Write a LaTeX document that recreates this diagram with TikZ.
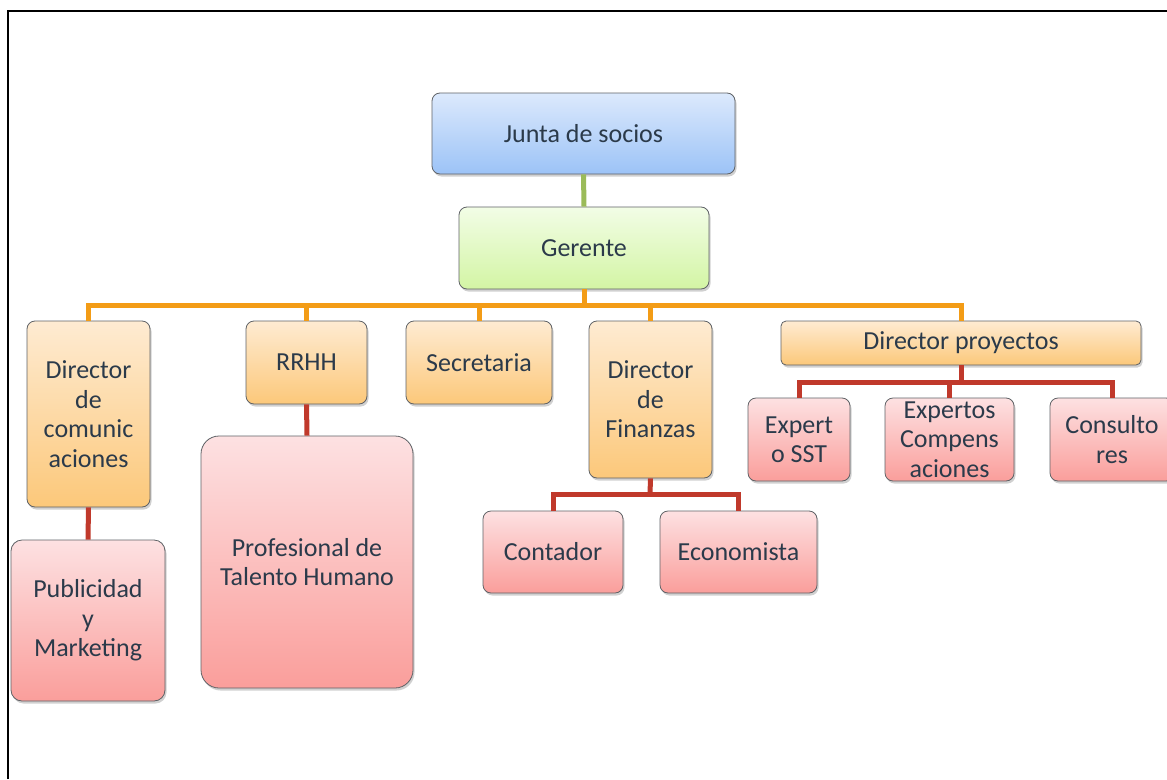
\documentclass[tikz,border=0pt]{standalone}
\usepackage{fontspec}
\setmainfont{Carlito}
\usetikzlibrary{shadows}
\definecolor{txt}{HTML}{2B3A4A}
\definecolor{bordc}{HTML}{5F6266}
\definecolor{blueT}{HTML}{DCE9FC}
\definecolor{blueB}{HTML}{9CC3F7}
\definecolor{greenT}{HTML}{F2FDE6}
\definecolor{greenB}{HTML}{D3F5A4}
\definecolor{orT}{HTML}{FEEBD2}
\definecolor{orB}{HTML}{FCC87A}
\definecolor{pkT}{HTML}{FDE1E2}
\definecolor{pkB}{HTML}{FA9E9B}
\definecolor{lineO}{HTML}{F39C16}
\definecolor{lineR}{HTML}{C0392B}
\definecolor{lineG}{HTML}{9BBB59}
\tikzset{
  box/.style={draw=bordc, line width=0.8pt, rounded corners=8pt, inner sep=0pt,
    align=center, text=txt, font=\fontsize{26}{29.5}\selectfont,
    drop shadow={shadow xshift=1.5pt, shadow yshift=-2.5pt, opacity=0.3, fill=black!60}},
  bluebox/.style={box, top color=blueT, bottom color=blueB},
  greenbox/.style={box, top color=greenT, bottom color=greenB},
  orbox/.style={box, top color=orT, bottom color=orB},
  pkbox/.style={box, top color=pkT, bottom color=pkB},
  oline/.style={draw=lineO, line width=5pt},
  rline/.style={draw=lineR, line width=5pt},
  gline/.style={draw=lineG, line width=5pt},
}
\begin{document}
\begin{tikzpicture}[x=1pt,y=-1pt]
\useasboundingbox (0,0) rectangle (1167,779);
\fill[white] (0,0) rectangle (1167,779);
% frame
\draw[black, line width=2pt] (8,779) -- (8,11) -- (1170,11);

% connectors first (behind boxes)
\coordinate (obus) at (584,305);
\coordinate (pbus) at (961,382);
\coordinate (fbus) at (650,494);

% nodes
\node[bluebox, minimum width=303pt, minimum height=81pt] (junta) at (583.5,133.5) {Junta de socios};
\node[greenbox, minimum width=250pt, minimum height=82pt] (gerente) at (584,248) {Gerente};
\node[orbox, minimum width=123pt, minimum height=186pt] (dircom) at (88.5,414) {Director\\de\\comunic\\aciones};
\node[orbox, minimum width=121pt, minimum height=83pt] (rrhh) at (306.5,362.5) {RRHH};
\node[orbox, minimum width=146pt, minimum height=83pt] (secre) at (479,362.5) {Secretaria};
\node[orbox, minimum width=123pt, minimum height=157pt] (dirfin) at (650.5,399.5) {Director\\de\\Finanzas};
\node[orbox, minimum width=360pt, minimum height=44pt, rounded corners=5pt] (dirpro) at (961,343) {Director proyectos};
\node[pkbox, minimum width=102pt, minimum height=83pt] (sst) at (799,439.5) {Expert\\o SST};
\node[pkbox, minimum width=129pt, minimum height=83pt] (comp) at (949.5,439.5) {Expertos\\Compens\\aciones};
\node[pkbox, minimum width=124pt, minimum height=83pt] (cons) at (1112,439.5) {Consulto\\res};
\node[pkbox, minimum width=140pt, minimum height=82pt] (conta) at (553,552) {Contador};
\node[pkbox, minimum width=157pt, minimum height=82pt] (econ) at (738.5,552) {Economista};
\node[pkbox, minimum width=212pt, minimum height=252pt, rounded corners=18pt] (prof) at (307,562) {Profesional de\\Talento Humano};
\node[pkbox, minimum width=154pt, minimum height=161pt, rounded corners=11pt] (publi) at (88,620.5) {Publicidad\\y\\Marketing};

% connectors
\begin{scope}[on background layer/.style={}]
\end{scope}
\draw[gline] (junta.south) -- (gerente.north);
\draw[oline] (gerente.south) -- (obus);
\draw[oline] (dircom.north) -- (dircom.north |- obus) -- (dirpro.north |- obus) -- (dirpro.north);
\draw[oline] (rrhh.north) -- (rrhh.north |- obus);
\draw[oline] (secre.north) -- (secre.north |- obus);
\draw[oline] (dirfin.north) -- (dirfin.north |- obus);
\draw[rline] (dirpro.south) -- (pbus);
\draw[rline] (sst.north) -- (sst.north |- pbus) -- (cons.north |- pbus) -- (cons.north);
\draw[rline] (comp.north) -- (comp.north |- pbus);
\draw[rline] (dirfin.south) -- (fbus);
\draw[rline] (conta.north) -- (conta.north |- fbus) -- (econ.north |- fbus) -- (econ.north);
\draw[rline] (rrhh.south) -- (prof.north);
\draw[rline] (dircom.south) -- (publi.north);
\end{tikzpicture}
\end{document}
